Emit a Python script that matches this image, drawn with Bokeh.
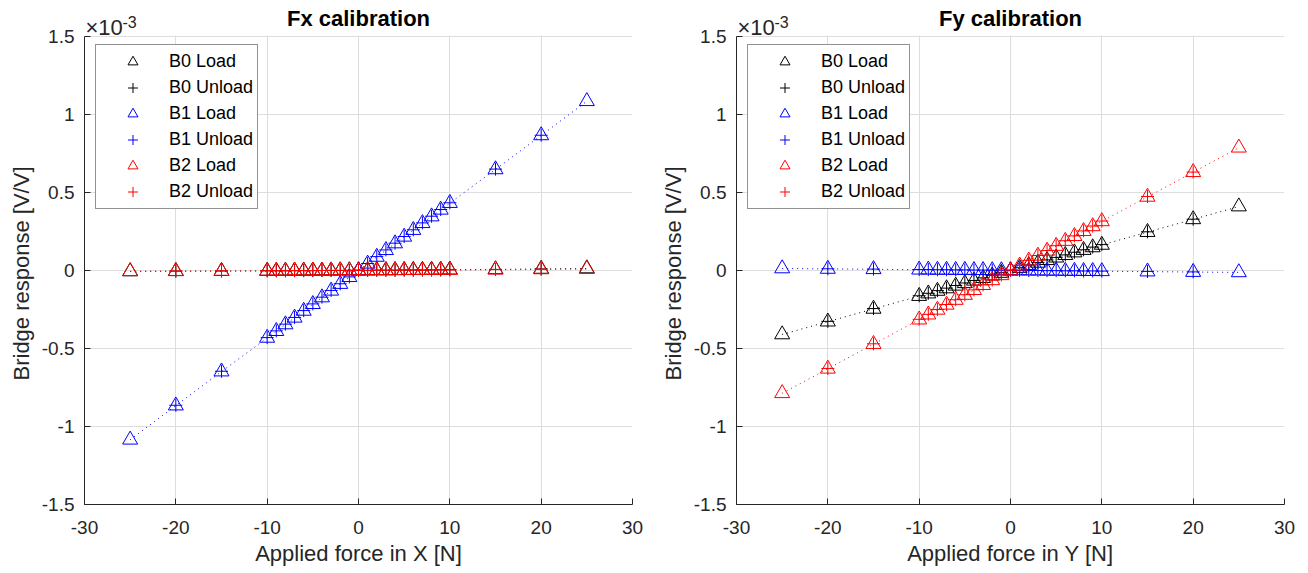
from bokeh.plotting import figure
from bokeh.layouts import row
from bokeh.models import (FixedTicker, CustomJSTickFormatter, Label, Legend, LegendItem, Range1d,
                          BoxAnnotation, Title)
from bokeh.embed import file_html
from bokeh.resources import INLINE

# ---------------- data (values in units of 1e-3 V/V) ----------------
x_load = [-25, -20, -15, -10, -9, -8, -7, -6, -5, -4, -3, -2, -1, 0,
          1, 2, 3, 4, 5, 6, 7, 8, 9, 10, 15, 20, 25]
x_unload = [-20, -15, -10, -9, -8, -7, -6, -5, -4, -3, -2, -1, 0,
            1, 2, 3, 4, 5, 6, 7, 8, 9, 10, 15, 20]

# Fx calibration
fx_b0_load = [-0.006, -0.005, -0.004, -0.003, -0.003, -0.002, -0.002, -0.002, -0.001, -0.001, -0.001, 0.000, 0.000, 0.000,
              0.000, 0.001, 0.001, 0.002, 0.002, 0.003, 0.003, 0.004, 0.004, 0.005, 0.007, 0.010, 0.013]
fx_b0_unload = [-0.004, -0.003, -0.002, -0.002, -0.002, -0.001, -0.001, -0.001, 0.000, 0.000, 0.000, 0.001, 0.001,
                0.001, 0.002, 0.002, 0.002, 0.003, 0.003, 0.003, 0.004, 0.004, 0.005, 0.007, 0.010]
fx_b1_load = [-1.085, -0.866, -0.648, -0.432, -0.389, -0.346, -0.303, -0.259, -0.216, -0.173, -0.130, -0.087, -0.043, 0.000,
              0.043, 0.087, 0.130, 0.173, 0.216, 0.259, 0.303, 0.346, 0.389, 0.432, 0.648, 0.866, 1.085]
fx_b1_unload = [-0.864, -0.646, -0.430, -0.387, -0.344, -0.301, -0.257, -0.214, -0.171, -0.128, -0.085, -0.041, 0.002,
                0.045, 0.089, 0.132, 0.175, 0.218, 0.261, 0.305, 0.348, 0.391, 0.434, 0.650, 0.867]
fx_b2_load = [-0.005, -0.004, -0.003, -0.002, -0.002, -0.002, -0.001, -0.001, -0.001, -0.001, 0.000, 0.000, 0.000, 0.000,
              0.000, 0.001, 0.001, 0.001, 0.002, 0.002, 0.002, 0.003, 0.003, 0.003, 0.005, 0.007, 0.009]
fx_b2_unload = [-0.003, -0.002, -0.001, -0.001, -0.001, 0.000, 0.000, 0.000, 0.000, 0.001, 0.001, 0.001, 0.001,
                0.001, 0.002, 0.002, 0.002, 0.003, 0.003, 0.003, 0.003, 0.004, 0.004, 0.006, 0.008]

# Fy calibration
fy_b0_load = [-0.410, -0.328, -0.246, -0.164, -0.148, -0.131, -0.115, -0.098, -0.082, -0.066, -0.049, -0.033, -0.016, 0.000,
              0.016, 0.033, 0.049, 0.066, 0.082, 0.098, 0.115, 0.131, 0.148, 0.164, 0.246, 0.328, 0.410]
fy_b0_unload = [-0.326, -0.244, -0.162, -0.146, -0.129, -0.113, -0.096, -0.080, -0.064, -0.047, -0.031, -0.014, 0.002,
                0.018, 0.035, 0.051, 0.068, 0.084, 0.100, 0.117, 0.133, 0.150, 0.166, 0.248, 0.329]
fy_b1_load = [0.013, 0.010, 0.008, 0.005, 0.005, 0.004, 0.004, 0.003, 0.003, 0.002, 0.002, 0.001, 0.001, 0.000,
              0.000, -0.001, -0.001, -0.002, -0.002, -0.003, -0.003, -0.004, -0.004, -0.005, -0.007, -0.010, -0.012]
fy_b1_unload = [0.011, 0.009, 0.006, 0.006, 0.005, 0.005, 0.004, 0.004, 0.003, 0.003, 0.002, 0.002, 0.001,
                0.001, 0.000, 0.000, -0.001, -0.001, -0.002, -0.002, -0.003, -0.003, -0.004, -0.006, -0.009]
fy_b2_load = [-0.787, -0.630, -0.472, -0.315, -0.283, -0.252, -0.220, -0.189, -0.157, -0.126, -0.094, -0.063, -0.031, 0.000,
              0.031, 0.063, 0.094, 0.126, 0.157, 0.189, 0.220, 0.252, 0.283, 0.315, 0.472, 0.630, 0.787]
fy_b2_unload = [-0.628, -0.470, -0.313, -0.281, -0.250, -0.218, -0.187, -0.155, -0.124, -0.092, -0.061, -0.029, 0.002,
                0.033, 0.065, 0.096, 0.128, 0.159, 0.191, 0.222, 0.254, 0.285, 0.317, 0.474, 0.631]

x_ticks = [-30, -20, -10, 0, 10, 20, 30]
y_ticks = [-1.5, -1, -0.5, 0, 0.5, 1, 1.5]
series_names = ["B0", "B1", "B2"]
series_colors = ["#000000", "#0000ff", "#ff0000"]

FONT = "Liberation Sans"
AX = "#262626"

PLOT_H = 468          # height of the axes box in px
TOP_PAD = 36          # space above the axes box (title, exponent)
Y0, Y1 = -1.5, 1.5
Y_TOP = Y1 + TOP_PAD * (Y1 - Y0) / PLOT_H   # frame extends up to hold title text


def make_panel(title, xlabel, loads, unloads, border_left, border_right):
    p = figure(frame_width=548, frame_height=PLOT_H + TOP_PAD, output_backend="svg",
               toolbar_location=None,
               x_range=Range1d(-30, 30), y_range=Range1d(Y0, Y_TOP),
               min_border_left=border_left, min_border_right=border_right,
               min_border_top=0, min_border_bottom=69, background_fill_color="white",
               border_fill_color="white")
    p.outline_line_color = None
    for ax in (p.xaxis[0], p.yaxis[0]):
        ax.axis_line_color = AX
        ax.axis_line_width = 1
        ax.major_tick_line_color = AX
        ax.major_tick_in = 6
        ax.major_tick_out = 0
        ax.minor_tick_line_color = None
        ax.major_label_text_font = FONT
        ax.major_label_text_font_size = "19px"
        ax.major_label_text_color = AX
        ax.axis_label_text_font = FONT
        ax.axis_label_text_font_size = "22px"
        ax.axis_label_text_font_style = "normal"
        ax.axis_label_text_color = AX
        ax.formatter = CustomJSTickFormatter(code="return tick.toString();")
    p.xaxis[0].ticker = FixedTicker(ticks=x_ticks)
    p.yaxis[0].ticker = FixedTicker(ticks=y_ticks)
    p.yaxis[0].bounds = (Y0, Y1)
    p.xaxis[0].axis_label = xlabel
    p.xaxis[0].major_label_standoff = 16
    p.xaxis[0].axis_label_standoff = 4
    p.yaxis[0].major_label_standoff = 10
    # y-axis label as a side title so it can be centred on the axes box
    p.add_layout(Title(text="Bridge response [V/V]", align="left", offset=124, standoff=9,
                       text_font=FONT, text_font_size="22px", text_font_style="normal",
                       text_color=AX), "left")
    for g in (p.xgrid[0], p.ygrid[0]):
        g.grid_line_color = "#dedede"
        g.grid_line_width = 1

    # blank strip above the axes box (hides grid lines there)
    p.add_layout(BoxAnnotation(bottom=Y1 + 0.006, fill_color="white", fill_alpha=1.0,
                               line_color=None, level="underlay"))

    items = []
    for name, col, yl, yu in zip(series_names, series_colors, loads, unloads):
        p.line(x_load, yl, line_color=col, line_width=1, line_dash="1 4")
        rl = p.scatter(x_load, yl, marker="triangle", size=15, fill_color=None,
                       line_color=col, line_width=1)
        ru = p.scatter(x_unload, yu, marker="cross", size=13, line_color=col, line_width=1)
        items.append(LegendItem(label=name + " Load", renderers=[rl]))
        items.append(LegendItem(label=name + " Unload", renderers=[ru]))

    leg = Legend(items=items, location=(11, PLOT_H + TOP_PAD - 45 - 164), padding=4,
                 glyph_width=65, glyph_height=25, label_height=25, spacing=1,
                 label_standoff=4, label_text_font=FONT, label_text_font_size="18px",
                 label_text_color="#000000", border_line_color=AX, border_line_width=1,
                 background_fill_color="white", background_fill_alpha=1.0)
    p.add_layout(leg)

    p.add_layout(Label(x=0, y=Y1, y_offset=18, text=title, text_align="center",
                       text_baseline="middle", text_font=FONT,
                       text_font_size="22px", text_font_style="bold", text_color="#000000"))
    p.add_layout(Label(x=-30, y=Y1, x_offset=1, y_offset=9, text="\u00d710", text_align="left",
                       text_baseline="middle", text_font=FONT,
                       text_font_size="22px", text_color=AX))
    p.add_layout(Label(x=-30, y=Y1, x_offset=38, y_offset=15, text="-3", text_align="left",
                       text_baseline="middle", text_font=FONT,
                       text_font_size="16px", text_color=AX))
    return p


p1 = make_panel("Fx calibration", "Applied force in X [N]",
                [fx_b0_load, fx_b1_load, fx_b2_load],
                [fx_b0_unload, fx_b1_unload, fx_b2_unload], 84, 22)
p2 = make_panel("Fy calibration", "Applied force in Y [N]",
                [fy_b0_load, fy_b1_load, fy_b2_load],
                [fy_b0_unload, fy_b1_unload, fy_b2_unload], 81, 25)

layout = row(p1, p2)
open("out.html", "w").write(file_html(layout, INLINE))
